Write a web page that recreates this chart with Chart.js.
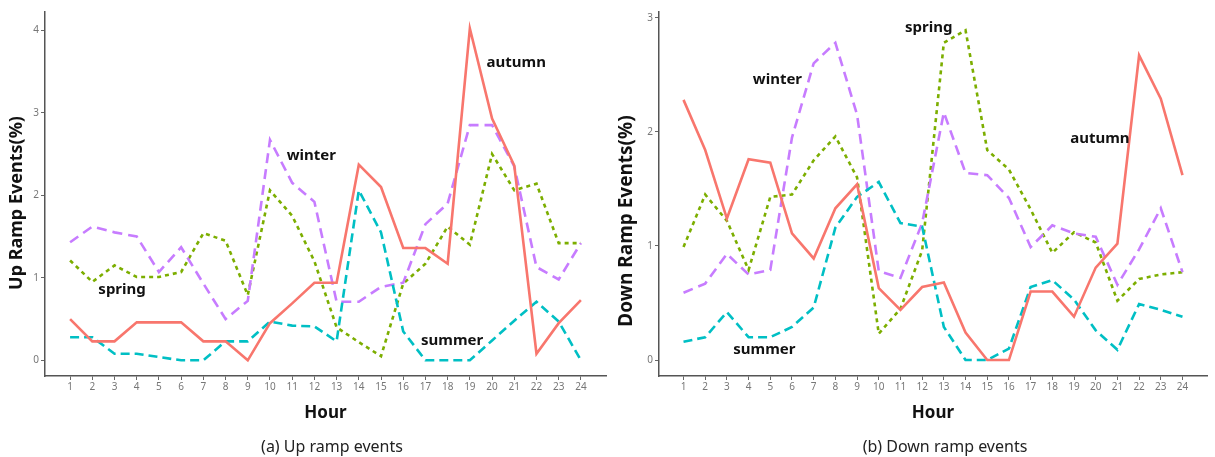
<!DOCTYPE html>
<html>
<head>
<meta charset="utf-8">
<script src="https://cdn.jsdelivr.net/npm/chart.js@4"></script>
<style>
  body { margin: 0; background: #fff; }
  #wrap { position: relative; width: 1215px; height: 457px; overflow: hidden; }
  canvas { position: absolute; top: 0; }
  .caption { position: absolute; top: 435px; font: 16px "Noto Sans", sans-serif; color: #222; transform: translateX(-50%); white-space: nowrap; }
</style>
</head>
<body>
<div id="wrap">
  <canvas id="up" width="610" height="457" style="left:0;width:610px;height:457px"></canvas>
  <canvas id="down" width="605" height="457" style="left:610px;width:605px;height:457px"></canvas>
  <div class="caption" style="left:332px">(a) Up ramp events</div>
  <div class="caption" style="left:945px">(b) Down ramp events</div>
</div>
<script>
// Data
const hours = [1, 2, 3, 4, 5, 6, 7, 8, 9, 10, 11, 12, 13, 14, 15, 16, 17, 18, 19, 20, 21, 22, 23, 24];

const upAutumn = [0.5, 0.23, 0.23, 0.46, 0.46, 0.46, 0.23, 0.23, 0, 0.45, 0.69, 0.94, 0.94, 2.37, 2.1, 1.36, 1.36, 1.17, 4.02, 2.93, 2.36, 0.08, 0.45, 0.73];
const upSummer = [0.28, 0.28, 0.08, 0.08, 0.04, 0, 0, 0.23, 0.23, 0.47, 0.42, 0.41, 0.23, 2.06, 1.55, 0.35, 0, 0, 0, 0.24, 0.48, 0.71, 0.47, 0];
const upWinter = [1.43, 1.62, 1.55, 1.5, 1.07, 1.37, 0.93, 0.5, 0.72, 2.67, 2.15, 1.92, 0.71, 0.71, 0.89, 0.94, 1.65, 1.9, 2.85, 2.85, 2.35, 1.13, 0.98, 1.42];
const upSpring = [1.21, 0.95, 1.15, 1.01, 1.01, 1.07, 1.54, 1.45, 0.79, 2.06, 1.75, 1.2, 0.4, 0.22, 0.05, 0.93, 1.17, 1.62, 1.4, 2.5, 2.06, 2.14, 1.42, 1.42];

const downAutumn = [2.28, 1.84, 1.24, 1.76, 1.73, 1.11, 0.89, 1.33, 1.54, 0.63, 0.44, 0.64, 0.68, 0.24, 0, 0, 0.6, 0.6, 0.38, 0.81, 1.02, 2.67, 2.29, 1.62];
const downSummer = [0.16, 0.2, 0.42, 0.2, 0.2, 0.29, 0.46, 1.16, 1.43, 1.56, 1.2, 1.17, 0.29, 0, 0, 0.1, 0.64, 0.7, 0.53, 0.26, 0.09, 0.49, 0.44, 0.38];
const downWinter = [0.59, 0.67, 0.93, 0.75, 0.79, 1.95, 2.6, 2.78, 2.15, 0.78, 0.72, 1.2, 2.17, 1.64, 1.62, 1.42, 0.99, 1.18, 1.11, 1.08, 0.66, 0.97, 1.33, 0.77];
const downSpring = [0.99, 1.45, 1.22, 0.79, 1.43, 1.45, 1.75, 1.96, 1.6, 0.23, 0.45, 0.96, 2.78, 2.89, 1.84, 1.67, 1.32, 0.94, 1.12, 1.03, 0.52, 0.71, 0.75, 0.77];

const upTicks = [0, 1, 2, 3, 4];
const downTicks = [0, 1, 2, 3];
const seasons = ['autumn', 'summer', 'winter', 'spring'];

const seasonStyle = {
    autumn: { color: '#F8766D', dash: [] },
    summer: { color: '#00BFC4', dash: [9, 5] },
    winter: { color: '#C77CFF', dash: [10, 6] },
    spring: { color: '#7CAE00', dash: [4, 4] }
};

// text drawn on the canvas: axis titles and season names
const textPlugin = {
    id: 'texts',
    afterDraw(chart, args, opts) {
        const ctx = chart.ctx;
        const xs = chart.scales.x, ys = chart.scales.y;
        ctx.save();
        ctx.fillStyle = '#111';
        ctx.textAlign = 'center';
        ctx.textBaseline = 'middle';
        // y title
        ctx.font = 'bold ' + opts.yTitleSize + 'px "Noto Sans", sans-serif';
        ctx.translate(opts.yTitleX, opts.yTitleY);
        ctx.rotate(-Math.PI / 2);
        ctx.fillText(opts.yTitle, 0, 0);
        ctx.restore();
        ctx.save();
        ctx.fillStyle = '#111';
        ctx.textAlign = 'center';
        ctx.textBaseline = 'middle';
        ctx.font = 'bold 17px "Noto Sans", sans-serif';
        ctx.fillText('Hour', (xs.left + xs.right) / 2, 413);
        ctx.font = 'bold 15px "Noto Sans", sans-serif';
        opts.notes.forEach(n => {
            ctx.fillText(n.text, xs.getPixelForValue(n.x), ys.getPixelForValue(n.y));
        });
        ctx.restore();
    }
};

function makeChart(id, values, yTicks, yMin, yMax, yWidth, padRight, texts) {
    const datasets = seasons.map((s, i) => ({
        label: s,
        data: hours.map((h, j) => ({ x: h, y: values[i][j] })),
        borderColor: seasonStyle[s].color,
        borderDash: seasonStyle[s].dash,
        borderWidth: 2.6,
        pointRadius: 0,
        tension: 0,
        fill: false
    }));
    return new Chart(document.getElementById(id), {
        type: 'line',
        data: { datasets: datasets },
        options: {
            responsive: false,
            animation: false,
            layout: { padding: { top: 12, right: padRight, left: 0, bottom: 0 } },
            plugins: { legend: { display: false }, tooltip: { enabled: false }, texts: texts },
            scales: {
                x: {
                    type: 'linear',
                    min: -0.13,
                    max: 25.13,
                    afterBuildTicks: s => { s.ticks = hours.map(v => ({ value: v })); },
                    afterFit: s => { s.height = 81; },
                    grid: { drawOnChartArea: false, drawTicks: true, tickLength: 4, color: '#666' },
                    border: { display: true, color: '#555', width: 1.5 },
                    ticks: { color: '#777', font: { size: 10, family: '"Noto Sans", sans-serif' }, padding: 1, maxRotation: 0, autoSkip: false }
                },
                y: {
                    min: yMin,
                    max: yMax,
                    afterBuildTicks: s => { s.ticks = yTicks.map(v => ({ value: v })); },
                    afterFit: s => { s.width = yWidth; },
                    grid: { drawOnChartArea: false, drawTicks: true, tickLength: 4, color: '#666' },
                    border: { display: true, color: '#555', width: 1.5 },
                    ticks: { color: '#777', font: { size: 10, family: '"Noto Sans", sans-serif' }, padding: 2 }
                }
            }
        },
        plugins: [textPlugin]
    });
}

makeChart('up', [upAutumn, upSummer, upWinter, upSpring], upTicks, -0.19, 4.22, 45, 4, {
    yTitle: 'Up Ramp Events(%)', yTitleSize: 18, yTitleX: 17, yTitleY: 203,
    notes: [
        { text: 'autumn', x: 21.09, y: 3.6 },
        { text: 'winter', x: 11.86, y: 2.48 },
        { text: 'spring', x: 3.34, y: 0.86 },
        { text: 'summer', x: 18.2, y: 0.24 }
    ]
});

makeChart('down', [downAutumn, downSummer, downWinter, downSpring], downTicks, -0.14, 3.05, 49, 8, {
    yTitle: 'Down Ramp Events(%)', yTitleSize: 19, yTitleX: 17, yTitleY: 221,
    notes: [
        { text: 'winter', x: 5.33, y: 2.46 },
        { text: 'spring', x: 12.3, y: 2.91 },
        { text: 'autumn', x: 20.19, y: 1.94 },
        { text: 'summer', x: 4.73, y: 0.09 }
    ]
});
</script>
</body>
</html>
